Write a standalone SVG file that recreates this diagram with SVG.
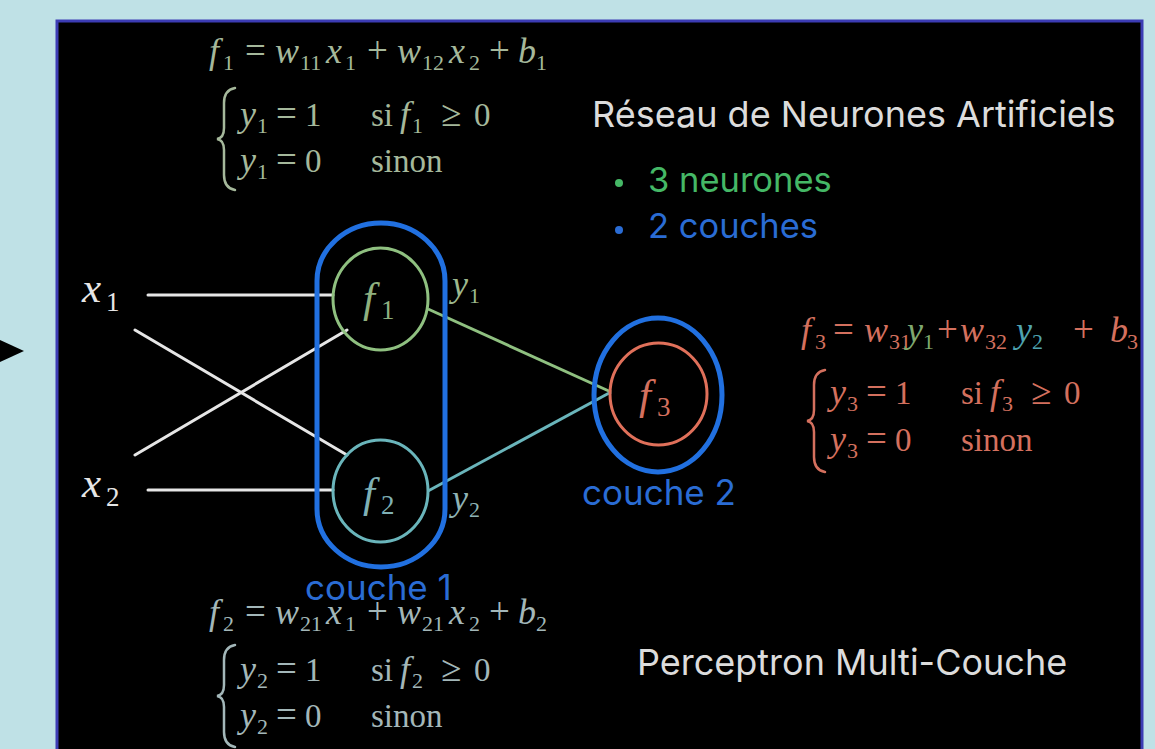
<svg xmlns="http://www.w3.org/2000/svg" width="1155" height="749" viewBox="0 0 1155 749">
<style>
.m{font-family:"Liberation Serif","Times New Roman",serif;font-size:33px}
.i{font-style:italic;font-size:36px}
.s{font-size:22px;font-style:normal}
.op{font-size:37px;font-style:normal}
.big{font-size:43px;font-style:italic}
.bs{font-size:27px;font-style:normal}
.sans{font-family:Inter,"Liberation Sans",sans-serif}
.in{stroke:#e6e6e6;stroke-width:3;fill:none;stroke-linecap:round}
.layer{fill:none;stroke:#2170e0;stroke-width:5}
.brace{fill:none;stroke-width:2.5;stroke-linecap:round}
</style>
<defs>
<path id="brace" d="M 18 0 Q 7 2 7 15 L 7 40 Q 7 50 0 51 Q 7 52 7 62 L 7 87 Q 7 100 18 102"/>
</defs>
<rect x="0" y="0" width="1155" height="749" fill="#bfe1e6"/>
<polygon points="-2,339 24,351 -2,363" fill="#000"/>
<rect x="57" y="21" width="1085" height="740" fill="#000" stroke="#3c3cb4" stroke-width="3"/>

<g id="connectors">
<line class="in" x1="148" y1="295" x2="333" y2="295"/>
<line class="in" x1="148" y1="490" x2="333" y2="490"/>
<line class="in" x1="135" y1="330" x2="347" y2="455"/>
<line class="in" x1="135" y1="455" x2="347" y2="330"/>
<line x1="428" y1="309" x2="611" y2="392" stroke="#8fc080" stroke-width="3"/>
<line x1="428" y1="491" x2="611" y2="392" stroke="#6ab5bb" stroke-width="3"/>
</g>

<g id="input-x1"><text class="m big" x="82" y="302" fill="#e6e6e6">x<tspan class="bs" x="106" y="311">1</tspan></text></g>
<g id="input-x2"><text class="m big" x="82" y="497" fill="#e6e6e6">x<tspan class="bs" x="106" y="506">2</tspan></text></g>

<g id="couche1">
<rect class="layer" x="317" y="223" width="128" height="344" rx="64" ry="58"/>
<text class="sans" x="305" y="600" font-size="35" fill="#2a6cd4">couche 1</text>
</g>

<g id="f1">
<ellipse cx="380.5" cy="299" rx="47.5" ry="51" fill="none" stroke="#8fc080" stroke-width="3"/>
<text class="m big" x="363" y="312" fill="#8fb07f">f<tspan class="bs" x="381" y="319">1</tspan></text>
</g>
<g id="f2">
<ellipse cx="380.5" cy="491" rx="47.5" ry="51" fill="none" stroke="#6ab5bb" stroke-width="3"/>
<text class="m big" x="363" y="507" fill="#7fb0b5">f<tspan class="bs" x="381" y="514">2</tspan></text>
</g>
<g id="label-y1"><text class="m i" x="452" y="296" fill="#9db88e">y<tspan class="s" x="469" y="303">1</tspan></text></g>
<g id="label-y2"><text class="m i" x="452" y="510" fill="#8fb3b5">y<tspan class="s" x="469" y="517">2</tspan></text></g>

<g id="couche2">
<ellipse class="layer" cx="658" cy="395" rx="64" ry="77"/>
<text class="sans" x="582" y="505" font-size="35" fill="#2a6cd4">couche 2</text>
</g>
<g id="f3">
<ellipse cx="658.5" cy="394" rx="48.5" ry="51" fill="none" stroke="#e0705a" stroke-width="3"/>
<text class="m big" x="639" y="409" fill="#d4705e">f<tspan class="bs" x="657" y="416">3</tspan></text>
</g>

<g id="formula-f1" fill="#a5b89b">
<text class="m"><tspan class="i" x="209" y="63">f</tspan><tspan class="s" x="223" y="70">1</tspan><tspan class="op" x="245" y="63">=</tspan><tspan class="i" x="275" y="63">w</tspan><tspan class="s" x="300" y="70">11</tspan><tspan class="i" x="326" y="63">x</tspan><tspan class="s" x="345" y="70">1</tspan><tspan class="op" x="367" y="63">+</tspan><tspan class="i" x="397" y="63">w</tspan><tspan class="s" x="422" y="70">12</tspan><tspan class="i" x="449" y="63">x</tspan><tspan class="s" x="469" y="70">2</tspan><tspan class="op" x="489" y="63">+</tspan><tspan class="i" x="518" y="63">b</tspan><tspan class="s" x="536" y="70">1</tspan></text>
<use href="#brace" x="217" y="88" class="brace" stroke="#a5b89b"/>
<text class="m"><tspan class="i" x="240" y="126">y</tspan><tspan class="s" x="257" y="133">1</tspan><tspan class="op" x="276" y="126">=</tspan><tspan x="305" y="126">1</tspan><tspan x="371" y="126">si</tspan><tspan class="i" x="400" y="126">f</tspan><tspan class="s" x="412" y="133">1</tspan><tspan class="op" x="441" y="126">≥</tspan><tspan x="474" y="126">0</tspan></text>
<text class="m"><tspan class="i" x="240" y="172">y</tspan><tspan class="s" x="257" y="179">1</tspan><tspan class="op" x="276" y="172">=</tspan><tspan x="305" y="172">0</tspan><tspan x="371" y="172">sinon</tspan></text>
</g>

<g id="formula-f2" fill="#a3b7b9">
<text class="m"><tspan class="i" x="209" y="624">f</tspan><tspan class="s" x="223" y="631">2</tspan><tspan class="op" x="245" y="624">=</tspan><tspan class="i" x="275" y="624">w</tspan><tspan class="s" x="300" y="631">21</tspan><tspan class="i" x="326" y="624">x</tspan><tspan class="s" x="345" y="631">1</tspan><tspan class="op" x="367" y="624">+</tspan><tspan class="i" x="397" y="624">w</tspan><tspan class="s" x="422" y="631">21</tspan><tspan class="i" x="449" y="624">x</tspan><tspan class="s" x="469" y="631">2</tspan><tspan class="op" x="489" y="624">+</tspan><tspan class="i" x="518" y="624">b</tspan><tspan class="s" x="536" y="631">2</tspan></text>
<use href="#brace" x="217" y="645" class="brace" stroke="#a3b7b9"/>
<text class="m"><tspan class="i" x="240" y="681">y</tspan><tspan class="s" x="257" y="688">2</tspan><tspan class="op" x="276" y="681">=</tspan><tspan x="305" y="681">1</tspan><tspan x="371" y="681">si</tspan><tspan class="i" x="400" y="681">f</tspan><tspan class="s" x="412" y="688">2</tspan><tspan class="op" x="441" y="681">≥</tspan><tspan x="474" y="681">0</tspan></text>
<text class="m"><tspan class="i" x="240" y="727">y</tspan><tspan class="s" x="257" y="734">2</tspan><tspan class="op" x="276" y="727">=</tspan><tspan x="305" y="727">0</tspan><tspan x="371" y="727">sinon</tspan></text>
</g>

<g id="formula-f3" fill="#d4705e">
<text class="m"><tspan class="i" x="801" y="342">f</tspan><tspan class="s" x="815" y="349">3</tspan><tspan class="op" x="833" y="342">=</tspan><tspan class="i" x="864" y="342">w</tspan><tspan class="s" x="889" y="349">31</tspan><tspan class="i" x="907" y="342" fill="#7fa86f">y</tspan><tspan class="s" x="923" y="349" fill="#7fa86f">1</tspan><tspan class="op" x="937" y="342">+</tspan><tspan class="i" x="960" y="342">w</tspan><tspan class="s" x="985" y="349">32</tspan><tspan class="i" x="1016" y="342" fill="#4fa3b0">y</tspan><tspan class="s" x="1032" y="349" fill="#4fa3b0">2</tspan><tspan class="op" x="1073" y="342">+</tspan><tspan class="i" x="1110" y="342">b</tspan><tspan class="s" x="1127" y="349">3</tspan></text>
<use href="#brace" x="807" y="370" class="brace" stroke="#d4705e"/>
<text class="m"><tspan class="i" x="830" y="404">y</tspan><tspan class="s" x="847" y="411">3</tspan><tspan class="op" x="866" y="404">=</tspan><tspan x="895" y="404">1</tspan><tspan x="961" y="404">si</tspan><tspan class="i" x="990" y="404">f</tspan><tspan class="s" x="1002" y="411">3</tspan><tspan class="op" x="1031" y="404">≥</tspan><tspan x="1064" y="404">0</tspan></text>
<text class="m"><tspan class="i" x="830" y="451">y</tspan><tspan class="s" x="847" y="458">3</tspan><tspan class="op" x="866" y="451">=</tspan><tspan x="895" y="451">0</tspan><tspan x="961" y="451">sinon</tspan></text>
</g>

<g id="legend">
<text class="sans" x="592" y="127" font-size="36" fill="#dcdcdc">Réseau de Neurones Artificiels</text>
<circle cx="619" cy="183" r="4" fill="#45b866"/>
<text class="sans" x="648" y="192" font-size="34.5" fill="#45b866">3 neurones</text>
<circle cx="619" cy="230" r="4" fill="#2a6cd4"/>
<text class="sans" x="648" y="238" font-size="34.5" fill="#2a6cd4">2 couches</text>
<text class="sans" x="637" y="675" font-size="36" fill="#dcdcdc">Perceptron Multi-Couche</text>
</g>
</svg>
